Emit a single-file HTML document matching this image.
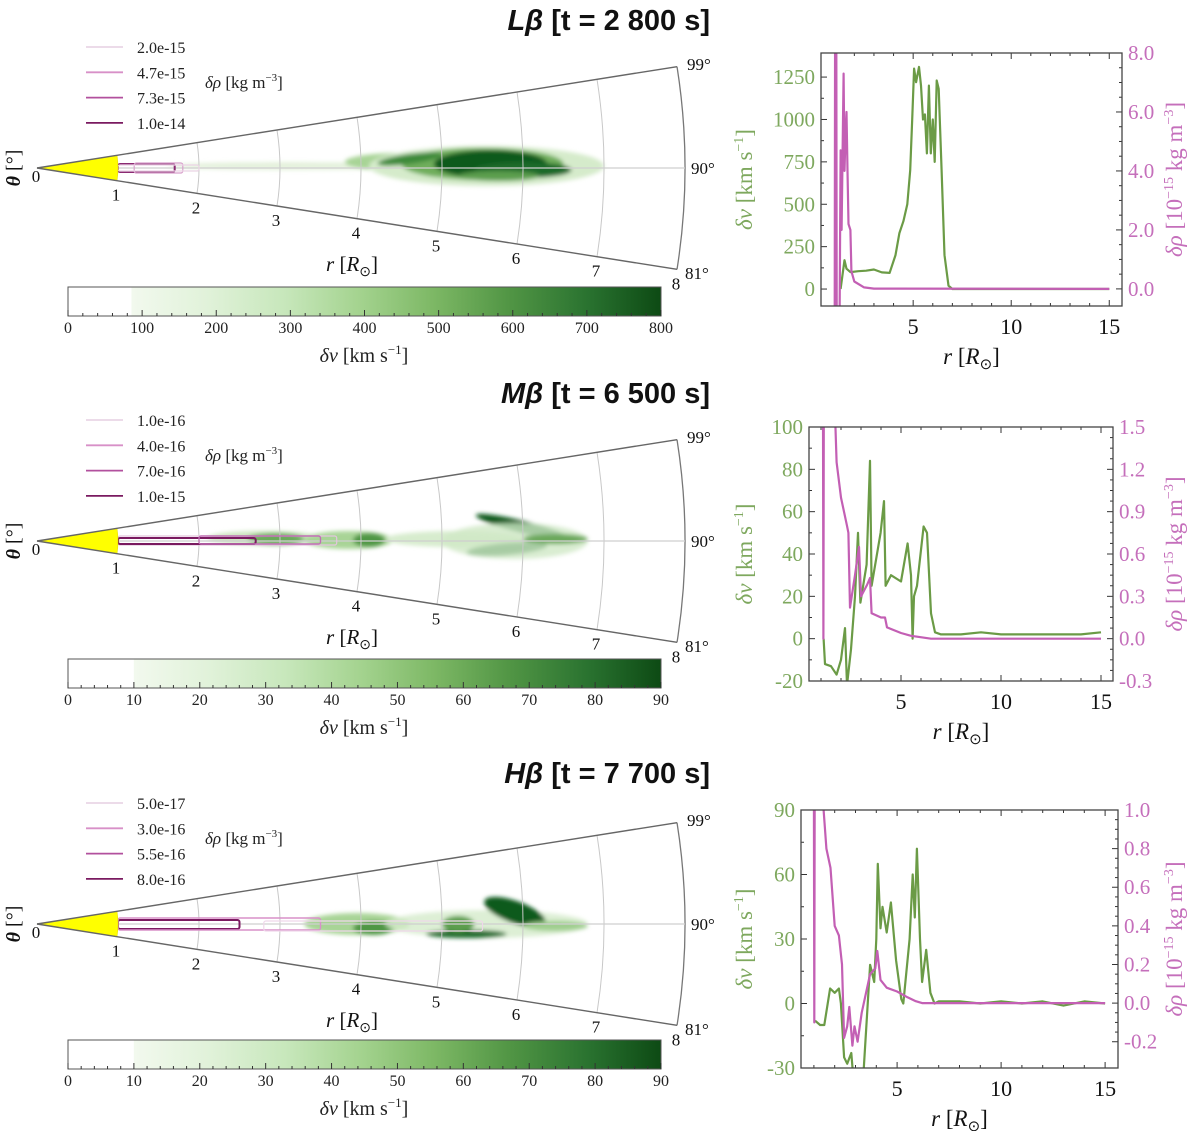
<!DOCTYPE html>
<html><head><meta charset="utf-8"><style>
body{margin:0;background:#fff}
svg{display:block}
text{font-family:"Liberation Serif",serif}
text.ttl{font-family:"Liberation Sans",sans-serif}
</style></head><body>
<svg id="fig" width="1200" height="1131" viewBox="0 0 1200 1131" xmlns="http://www.w3.org/2000/svg">
<defs>
<filter id="blur" x="-20%" y="-50%" width="140%" height="200%"><feGaussianBlur stdDeviation="2.2"/></filter>
<linearGradient id="greens" x1="0" x2="1" y1="0" y2="0">
<stop offset="0" stop-color="#f2f9ee"/><stop offset="0.14" stop-color="#e1f2da"/><stop offset="0.29" stop-color="#c7e7bb"/>
<stop offset="0.43" stop-color="#a4d38f"/><stop offset="0.57" stop-color="#7db865"/><stop offset="0.71" stop-color="#529645"/>
<stop offset="0.86" stop-color="#2a7330"/><stop offset="1" stop-color="#0d4a14"/></linearGradient>
</defs>
</svg>
<script>
// ===== Profile data =====
const topR   = [1.3,1.5,1.6,1.8,2.2,2.6,3.0,3.4,3.8,4.1,4.3,4.5,4.7,4.85,4.95,5.05,5.15,5.3,5.4,5.5,5.6,5.7,5.8,5.9,6.0,6.1,6.2,6.3,6.45,6.6,6.8,7.0,10,15];
const topV   = [0,170,120,100,105,108,115,98,95,200,330,400,500,700,1000,1300,1220,1310,1200,1000,1030,800,1200,800,1000,750,1230,1180,700,200,20,0,0,0];
const topRhoR= [1.0,1.02,1.08,1.1,1.25,1.3,1.35,1.45,1.5,1.55,1.6,1.65,1.7,1.8,1.85,2.0,2.5,3.0,15];
const topRho = [-1,9,9,-1,-1,4.7,2.0,7.3,4.0,5.2,6.0,4.0,2.2,2.0,0.6,0.25,0.05,0.01,0];

const midR   = [1.13,1.2,1.5,1.78,2.0,2.2,2.3,2.5,2.7,2.85,2.97,3.28,3.45,3.53,3.98,4.15,4.23,4.5,5.0,5.33,5.5,5.58,5.65,5.8,6.13,6.3,6.5,6.7,7.0,8,9,10,11,12,13,14,15];
const midV   = [0,-12,-13,-17,-10,5,-22,-5,20,50,17,35,84,25,50,65,25,30,27,45,30,0,20,25,53,50,12,3,2,2,3,2,2,2,2,2,3];
const midRhoR= [1.1,1.12,1.14,1.7,1.78,2.0,2.3,2.37,2.45,2.7,2.8,2.9,3.0,3.3,3.45,3.53,4.0,4.2,4.3,5.0,5.5,6.5,15];
const midRho = [1.6,0.0,1.6,1.6,1.25,1.0,0.8,0.75,0.22,0.45,0.55,0.65,0.30,0.38,0.43,0.18,0.15,0.15,0.08,0.04,0.02,0,0];

const botR   = [1.06,1.3,1.5,1.78,2.0,2.2,2.3,2.45,2.6,2.8,2.9,3.4,3.7,3.9,4.0,4.07,4.2,4.3,4.5,4.7,4.95,5.2,5.3,5.4,5.6,5.75,5.85,5.95,6.1,6.2,6.4,6.6,6.8,7,8,9,10,11,12,13,14,15];
const botV   = [-8,-10,-10,7,5,7,0,-25,-28,-23,-35,-30,18,10,30,65,35,45,33,47,20,2,0,10,30,60,40,72,30,10,25,5,0,1,1,0,1,0,1,-1,1,0];
const botRhoR= [1.0,1.02,1.04,1.4,1.6,1.8,2.0,2.2,2.35,2.45,2.6,2.7,2.85,2.95,3.1,3.3,3.7,3.95,4.05,4.2,4.5,5.0,5.5,5.9,6.2,15];
const botRho = [1.1,-0.1,1.1,1.1,0.8,0.7,0.4,0.35,0.2,-0.18,-0.12,-0.02,-0.22,-0.12,-0.2,-0.05,0.15,0.18,0.27,0.12,0.08,0.06,0.03,0.01,0,0];

const vTicksTop=[0,250,500,750,1000,1250], rhoTicksTop=[0,2,4,6,8], rhoLblTop=["0.0","2.0","4.0","6.0","8.0"];
const vTicksMid=[-20,0,20,40,60,80,100], rhoTicksMid=[-0.3,0,0.3,0.6,0.9,1.2,1.5], rhoLblMid=["-0.3","0.0","0.3","0.6","0.9","1.2","1.5"];
const vTicksBot=[-30,0,30,60,90], rhoTicksBot=[-0.2,0,0.2,0.4,0.6,0.8,1.0], rhoLblBot=["-0.2","0.0","0.2","0.4","0.6","0.8","1.0"];
const rTicks=[5,10,15];
const cbTicksTop=[0,100,200,300,400,500,600,700,800];
const cbTicksLow=[0,10,20,30,40,50,60,70,80,90];
const legTop=["2.0e-15","4.7e-15","7.3e-15","1.0e-14"];
const legMid=["1.0e-16","4.0e-16","7.0e-16","1.0e-15"];
const legBot=["5.0e-17","3.0e-16","5.5e-16","8.0e-16"];

const NS="http://www.w3.org/2000/svg";
const svg=document.getElementById('fig');
function mk(tag,attrs,parent,txt){const e=document.createElementNS(NS,tag);for(const k in attrs)e.setAttribute(k,attrs[k]);if(txt!==undefined)e.textContent=txt;(parent||svg).appendChild(e);return e;}

const GREEN="#6b9b46", MAG="#c35fb4", GTXT="#7ea85e", MTXT="#c56fbb";

function chart(o){
  const g=mk('g',{});
  
  
  const X=r=>o.x0+(r-o.rmin)/(o.rmax-o.rmin)*(o.x1-o.x0);
  const YV=v=>o.y1-(v-o.vmin)/(o.vmax-o.vmin)*(o.y1-o.y0);
  const YR=p=>o.y1-(p-o.pmin)/(o.pmax-o.pmin)*(o.y1-o.y0);
  const cid='clip'+o.name;
  const cp=mk('clipPath',{id:cid},g);mk('rect',{x:o.x0,y:o.y0,width:o.x1-o.x0,height:o.y1-o.y0},cp);
  for(let r=1;r<=15;r++){const x=X(r);const L=(r%5==0)?6:3;
    mk('line',{x1:x,x2:x,y1:o.y1,y2:o.y1-L,stroke:'#333','stroke-width':1},g);
    mk('line',{x1:x,x2:x,y1:o.y0,y2:o.y0+L,stroke:'#333','stroke-width':1},g);}
  rTicks.forEach(r=>{const t=mk('text',{x:X(r),y:o.y1+28,'font-size':22,'text-anchor':'middle',fill:'#111'},g,String(r));
    });
  o.vt.forEach((v,i)=>{const y=YV(v);mk('line',{x1:o.x0,x2:o.x0+6,y1:y,y2:y,stroke:'#333'},g);
    if(i<o.vt.length-1){const y2=YV((v+o.vt[i+1])/2);mk('line',{x1:o.x0,x2:o.x0+3,y1:y2,y2:y2,stroke:'#333'},g);}
    const t=mk('text',{x:o.x0-6,y:y+7,'font-size':21,'text-anchor':'end',fill:GTXT},g,String(v));
    });
  o.pt.forEach((p,i)=>{const y=YR(p);mk('line',{x1:o.x1,x2:o.x1-6,y1:y,y2:y,stroke:'#333'},g);
    for(let k=1;k<4;k++){if(i<o.pt.length-1){const y2=YR(p+(o.pt[i+1]-p)*k/4);mk('line',{x1:o.x1,x2:o.x1-3,y1:y2,y2:y2,stroke:'#333'},g);}}
    const t=mk('text',{x:o.x1+6,y:y+7,'font-size':21,fill:MTXT},g,o.pl[i]);
    });
  const pv=o.vr.map((r,i)=>X(r).toFixed(1)+','+YV(o.vv[i]).toFixed(1)).join(' ');
  const l1=mk('polyline',{points:pv,fill:'none',stroke:GREEN,'stroke-width':2.2,'clip-path':'url(#'+cid+')','stroke-linejoin':'round'},g);
  
  const pp=o.pr.map((r,i)=>X(r).toFixed(1)+','+YR(o.pp[i]).toFixed(1)).join(' ');
  const l2=mk('polyline',{points:pp,fill:'none',stroke:MAG,'stroke-width':2.2,'clip-path':'url(#'+cid+')','stroke-linejoin':'round'},g);
  
  const fr=mk('rect',{x:o.x0,y:o.y0,width:o.x1-o.x0,height:o.y1-o.y0,fill:'none',stroke:'#444','stroke-width':1.3},g);
  
  const cy=(o.y0+o.y1)/2;
  const xl=mk('text',{x:(o.x0+o.x1)/2,y:o.y1+58,'font-size':23,'text-anchor':'middle',fill:'#111'},g);
  xl.innerHTML='<tspan font-style="italic">r</tspan> [<tspan font-style="italic">R</tspan><tspan font-size="15" dy="5">⊙</tspan><tspan dy="-5">]</tspan>';
  
  const yl=mk('text',{x:0,y:0,'font-size':23,'text-anchor':'middle',fill:GTXT,transform:`translate(${o.ylx},${cy}) rotate(-90)`},g);
  yl.innerHTML='<tspan font-style="italic">δv</tspan> [km s<tspan font-size="14" dy="-9">−1</tspan><tspan dy="9">]</tspan>';
  
  const yr=mk('text',{x:0,y:0,'font-size':23,'text-anchor':'middle',fill:MTXT,transform:`translate(${o.yrx},${cy}) rotate(-90)`},g);
  yr.innerHTML='<tspan font-style="italic">δρ</tspan> [10<tspan font-size="14" dy="-9">−15</tspan><tspan dy="9"> kg m</tspan><tspan font-size="14" dy="-9">−3</tspan><tspan dy="9">]</tspan>';
  
}
chart({name:'profile-top',x0:821,x1:1122,y0:53,y1:306,rmin:0.3,rmax:15.65,vmin:-100,vmax:1392,pmin:-0.58,pmax:8.0,
  vt:vTicksTop,pt:rhoTicksTop,pl:rhoLblTop,vr:topR,vv:topV,pr:topRhoR,pp:topRho,ylx:752,yrx:1182});
chart({name:'profile-middle',x0:809,x1:1113,y0:427,y1:681,rmin:0.4,rmax:15.6,vmin:-20,vmax:100,pmin:-0.3,pmax:1.5,
  vt:vTicksMid,pt:rhoTicksMid,pl:rhoLblMid,vr:midR,vv:midV,pr:midRhoR,pp:midRho,ylx:752,yrx:1182});
chart({name:'profile-bottom',x0:801,x1:1118,y0:810,y1:1068,rmin:0.38,rmax:15.62,vmin:-30,vmax:90,pmin:-0.336,pmax:1.0,
  vt:vTicksBot,pt:rhoTicksBot,pl:rhoLblBot,vr:botR,vv:botV,pr:botRhoR,pp:botRho,ylx:752,yrx:1182});

// ===== wedge panels =====
const AX=37,S=81;
function P(r,deg,cy){const a=deg*Math.PI/180;return [AX+r*S*Math.cos(a),cy-r*S*Math.sin(a)];}
function wedge(o){
  const cy=o.cy;const g=mk('g',{});
  
  const bg=mk('g',{filter:'url(#blur)'},g);
  o.blobs.forEach(b=>{const x0=AX+b[0]*S,x1=AX+b[1]*S;
    const e=mk('ellipse',{cx:(x0+x1)/2,cy:cy+b[2],rx:(x1-x0)/2,ry:b[3],fill:b[4],opacity:b[5]===undefined?1:b[5],transform:b[6]?`rotate(${b[6]} ${(x0+x1)/2} ${cy+b[2]})`:''},bg);
    });
  for(let r=2;r<=7;r++){const a=P(r,9,cy),b=P(r,-9,cy);
    mk('path',{d:`M${a[0]},${a[1]} A${r*S},${r*S} 0 0 1 ${b[0]},${b[1]}`,fill:'none',stroke:'#c8c8c8','stroke-width':1},g);}
  const c=P(8,9,cy),d=P(8,-9,cy);
  mk('path',{d:`M${c[0]},${c[1]} A${8*S},${8*S} 0 0 1 ${d[0]},${d[1]}`,fill:'none',stroke:'#777','stroke-width':1.3},g);
  mk('line',{x1:AX+S,x2:AX+8*S,y1:cy,y2:cy,stroke:'#cfcfcf','stroke-width':1.3},g);
  o.cont.forEach(k=>{const x0=AX+k[0]*S,x1=AX+k[1]*S;
    const e=mk('rect',{x:x0,y:cy+k[2],width:x1-x0,height:k[3],fill:'none',stroke:k[4],'stroke-width':k[5]||1.5,rx:2},g);
    });
  const s1=P(1,9,cy),s2=P(1,-9,cy);
  const sun=mk('path',{d:`M${AX},${cy} L${s1[0]},${s1[1]} A${S},${S} 0 0 1 ${s2[0]},${s2[1]} Z`,fill:'#ffff00',stroke:'#e8e000','stroke-width':0.6},g);
  
  mk('line',{x1:AX,y1:cy,x2:c[0],y2:c[1],stroke:'#666','stroke-width':1.4},g);
  mk('line',{x1:AX,y1:cy,x2:d[0],y2:d[1],stroke:'#666','stroke-width':1.4},g);
  for(let r=0;r<=8;r++){const p=P(r,-9,cy);
    const t=mk('text',{x:p[0]-1,y:p[1]+20+(r==0?-6:0),'font-size':17,'text-anchor':'middle',fill:'#111'},g,String(r));
    }
  mk('text',{x:687,y:cy-98,'font-size':17,fill:'#111'},g,'99°');
  mk('text',{x:691,y:cy+6,'font-size':17,fill:'#111'},g,'90°');
  mk('text',{x:685,y:cy+111,'font-size':17,fill:'#111'},g,'81°');
  const th=mk('text',{x:0,y:0,'font-size':20,'text-anchor':'middle',fill:'#111',transform:`translate(20,${cy}) rotate(-90)`},g);
  th.innerHTML='<tspan font-style="italic" font-weight="bold">θ</tspan> [°]';
  
  const rl=mk('text',{x:352,y:cy+103,'font-size':21,'text-anchor':'middle',fill:'#111'},g);
  rl.innerHTML='<tspan font-style="italic">r</tspan> [<tspan font-style="italic">R</tspan><tspan font-size="14" dy="5">⊙</tspan><tspan dy="-5">]</tspan>';
  
  const cols=['#ead6e6','#d890c8','#b2509e','#7a1a60'];
  o.leg.forEach((s,i)=>{const y=cy-121+i*25.3;
    const lg=mk('g',{},g);
    mk('line',{x1:86,x2:123,y1:y,y2:y,stroke:cols[i],'stroke-width':1.8},lg);
    mk('text',{x:137,y:y+6,'font-size':16,fill:'#222'},lg,s);});
  const lt=mk('text',{x:205,y:cy-80,'font-size':17,fill:'#222'},g);
  lt.innerHTML='<tspan font-style="italic">δρ</tspan> [kg m<tspan font-size="11" dy="-7">−3</tspan><tspan dy="7">]</tspan>';
  
  const tt=mk('text',{x:710,y:o.ty,'font-size':29,'font-weight':'bold','text-anchor':'end',fill:'#111','class':'ttl'},g);
  tt.innerHTML=`<tspan font-style="italic">${o.title}</tspan>${o.sp}[t = ${o.t} s]`;
  
  const by=o.cby,x0=68,x1=661,wf=o.wf;
  const cb=mk('g',{},g);
  mk('rect',{x:x0+(x1-x0)*wf,y:by,width:(x1-x0)*(1-wf),height:29,fill:'url(#greens)'},cb);
  mk('rect',{x:x0,y:by,width:x1-x0,height:29,fill:'none',stroke:'#555','stroke-width':1},cb);
  const mx=o.cbt[o.cbt.length-1];
  o.cbt.forEach((v,i)=>{const x=x0+(x1-x0)*v/mx;
    mk('line',{x1:x,x2:x,y1:by+29,y2:by+23,stroke:'#333'},cb);
    if(i<o.cbt.length-1)for(let k=1;k<5;k++){const xm=x+(x1-x0)/(o.cbt.length-1)*k/5;mk('line',{x1:xm,x2:xm,y1:by+29,y2:by+26,stroke:'#333'},cb);}
    const t=mk('text',{x:x,y:by+46,'font-size':16,'text-anchor':'middle',fill:'#222'},cb,String(v));
    });
  const cl=mk('text',{x:364,y:by+75,'font-size':20,'text-anchor':'middle',fill:'#222'},cb);
  cl.innerHTML='<tspan font-style="italic">δv</tspan> [km s<tspan font-size="13" dy="-8">−1</tspan><tspan dy="8">]</tspan>';
  
}
wedge({name:'wedge-top',cy:168,ty:30,title:'Lβ',sp:'  ',t:'2 800',cby:287,wf:0.107,cbt:cbTicksTop,leg:legTop,
  blobs:[[1.6,4.6,-2,4,'#e4f1dc'],[3.8,5.2,-6,9,'#a8d496'],[4.1,7.0,-2,20,'#d5ebcb'],[4.5,6.5,-4,16,'#6fae5c'],
         [4.9,6.3,-4,14,'#0e5a1e'],[5.4,6.6,2,8,'#1c6a2a'],[4.2,5.0,-9,5,'#3e8a3a',1,-8],[5.2,6.2,8,5,'#5c9e4e']],
  cont:[[1.0,1.7,-4,8,'#8a2a72',2],[1.2,1.8,-5,10,'#d8a0cc',1.2],[1.0,2.0,-3,6,'#ecd4e6',1.2]]});
wedge({name:'wedge-middle',cy:541,ty:403,title:'Mβ',sp:' ',t:'6 500',cby:659,wf:0.111,cbt:cbTicksLow,leg:legMid,
  blobs:[[2.1,3.5,-3,7,'#cde6c0'],[2.6,3.3,-2,6,'#6ba95a'],[3.3,4.4,-1,9,'#a8d496'],[3.9,4.3,-1,7,'#4f9744'],[4.3,6.0,-2,8,'#d7ecce'],
         [5.4,6.6,-14,6,'#0e5a1e',1,14],[5.3,6.3,8,6,'#0e5a1e',1,-5],[5.0,6.8,0,18,'#d0e9c6',0.8],[6.0,6.8,-2,5,'#6aa85a']],
  cont:[[1.0,3.7,-5,9,'#e3c6de',1.2],[1.0,2.7,-3,6,'#7a1a60',2],[2.0,3.5,-5,8,'#c070b4',1.4]]});
wedge({name:'wedge-bottom',cy:924,ty:783,title:'Hβ',sp:' ',t:'7 700',cby:1040,wf:0.111,cbt:cbTicksLow,leg:legBot,
  blobs:[[3.3,4.6,0,11,'#a8d496'],[3.9,4.4,4,7,'#4f9744'],[4.3,6.8,0,14,'#d5ebcb',0.8],[4.8,5.8,10,4,'#1c6a2a'],
         [5.5,6.3,-12,11,'#0e5a1e',1,20],[5.0,5.4,0,8,'#5c9e4e'],[6.0,6.8,2,5,'#9fce8e']],
  cont:[[1.0,2.5,-4,9,'#7a1a60',2],[1.0,3.5,-6,12,'#d890c8',1.4],[2.8,5.5,-3,10,'#efd7ea',1.2]]});
</script>
</body></html>
